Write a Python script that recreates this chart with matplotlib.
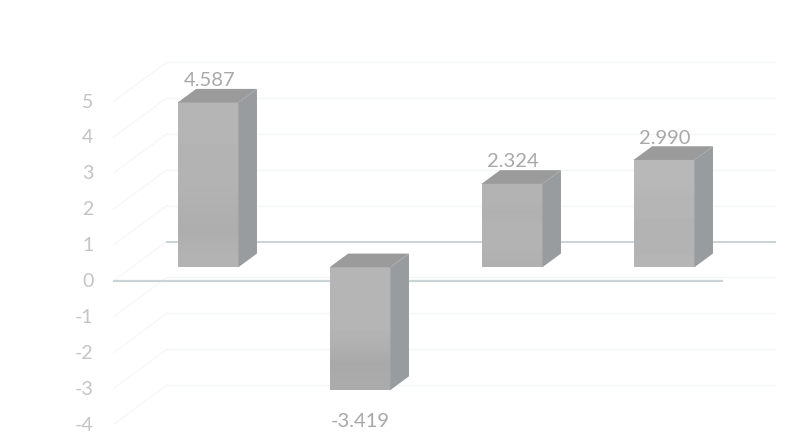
import matplotlib
matplotlib.use("Agg")
import matplotlib.pyplot as plt
import numpy as np
from matplotlib.patches import Polygon

valores = [4.587, -3.419, 2.324, 2.990]
etiquetas = ["4.587", "-3.419", "2.324", "2.990"]
ticks_y = [5, 4, 3, 2, 1, 0, -1, -2, -3, -4]

plt.rcParams['font.family'] = ['Lato', 'DejaVu Sans']

# escala de la imagen: 152 px por categoria, 35.9 px por unidad
px_x = 152.0
px_y = 35.9
cero_px = 281.5
fig = plt.figure(figsize=(7.88, 4.39), dpi=100)
ax = fig.add_axes([0, 0, 1, 1])
ax.axis("off")

fondo_x = 53 / px_x
fondo_y = 39 / px_y

def proy(x, v, d):
    return (x + d * fondo_x, v + d * fondo_y)

izq, der = -0.5, 3.5
color_grid = "#f4f5f5"
color_cero = "#ccd3d6"

# rejilla del fondo y pared lateral
for v in ticks_y:
    if v != 0:
        p0 = proy(izq, v, 1)
        p1 = proy(der, v, 1)
        ax.plot([p0[0], p1[0]], [p0[1], p1[1]], color=color_grid, lw=1, zorder=1)
    p0 = proy(izq, v, 0)
    p1 = proy(izq, v, 1)
    ax.plot([p0[0], p1[0]], [p0[1], p1[1]], color="#f7f7f7", lw=1, zorder=1)
    ax.text(izq - 0.135, v, str(v), ha="right", va="center", fontsize=14, color="#c4c4c4")

# linea de cero, delante y detras
p0 = proy(izq, 0, 1)
p1 = proy(der, 0, 1)
ax.plot([p0[0], p1[0]], [p0[1], p1[1]], color=color_cero, lw=1.4, zorder=2)
ax.plot([izq, der], [0, 0], color=color_cero, lw=1.6, zorder=2)

ancho = 0.4
d0, d1 = 0.34, 0.69
# el segundo bloque tiene la parte baja algo mas oscura
degradados = [
    [0.71, 0.71, 0.70, 0.70, 0.69, 0.68, 0.70],
    [0.71, 0.71, 0.71, 0.71, 0.69, 0.66, 0.67],
    [0.70, 0.70, 0.69, 0.70, 0.70, 0.70, 0.69],
    [0.72, 0.72, 0.71, 0.71, 0.70, 0.70, 0.71],
]

for i, v in enumerate(valores):
    a = i - ancho / 2
    b = i + ancho / 2
    abajo, arriba = min(0, v), max(0, v)
    # cara frontal con un degradado suave
    x0, y0 = proy(a, abajo, d0)
    x1, y1 = proy(b, arriba, d0)
    ax.imshow(np.array(degradados[i]).reshape(-1, 1), cmap="gray", vmin=0, vmax=1, aspect="auto",
              extent=[x0, x1, y0, y1], interpolation="bilinear", zorder=4)
    # cara superior
    cara_sup = [proy(a, arriba, d0), proy(b, arriba, d0), proy(b, arriba, d1), proy(a, arriba, d1)]
    ax.add_patch(Polygon(cara_sup, closed=True, fc="#9b9b9b", ec="none", zorder=4))
    # cara lateral
    cara_lat = [proy(b, abajo, d0), proy(b, arriba, d0), proy(b, arriba, d1), proy(b, abajo, d1)]
    ax.add_patch(Polygon(cara_lat, closed=True, fc="#989c9f", ec="none", zorder=4))
    # valor
    if v > 0:
        xt, yt = proy(i, arriba, d1)
        ax.text(xt - 0.115, yt + 0.02, etiquetas[i], ha="center", va="bottom", fontsize=14.5, color="#a8a8a8", zorder=5)
    else:
        xt, yt = proy(i, abajo, d0)
        ax.text(xt, yt - 0.6, etiquetas[i], ha="center", va="top", fontsize=14.5, color="#a8a8a8", zorder=5)

# imshow cambia los limites, se ponen al final
ax.set_xlim((0 - 114) / px_x - 0.5, (788 - 114) / px_x - 0.5)
ax.set_ylim((cero_px - 439) / px_y, cero_px / px_y)
fig.savefig("out.png", dpi=100)
